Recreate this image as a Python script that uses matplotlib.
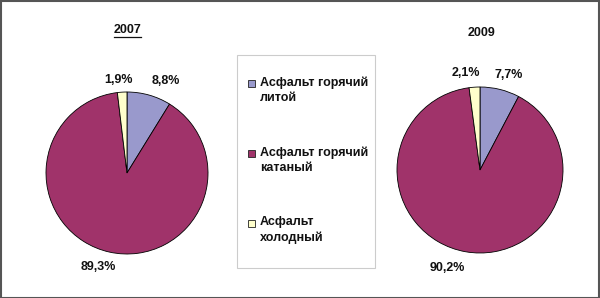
import matplotlib
matplotlib.use("Agg")
import matplotlib.pyplot as plt
from matplotlib.patches import Rectangle
from matplotlib.lines import Line2D

plt.rcParams["font.family"] = ["Liberation Sans", "DejaVu Sans"]

categories = ["Асфальт горячий\nлитой", "Асфальт горячий\nкатаный", "Асфальт\nхолодный"]
colors = ["#9999cc", "#a0336a", "#ffffcc"]
years = ["2007", "2009"]
shares_2007 = [8.8, 89.3, 1.9]
shares_2009 = [7.7, 90.2, 2.1]
labels_2007 = ["8,8%", "89,3%", "1,9%"]
labels_2009 = ["7,7%", "90,2%", "2,1%"]

W, H = 600, 298
fig = plt.figure(figsize=(W / 100, H / 100), dpi=100)
fig.patch.set_facecolor("white")


def pie_axes(cx, cy, r):
    # pixel centre / radius -> axes rect in figure fraction
    return fig.add_axes([(cx - r) / W, (H - cy - r) / H, 2 * r / W, 2 * r / H])


def draw_pie(ax, values, labels, label_pos):
    ax.pie(values, colors=colors, startangle=90, counterclock=False,
           wedgeprops=dict(edgecolor="black", linewidth=0.6))
    ax.set_xlim(-1, 1)
    ax.set_ylim(-1, 1)
    ax.set_aspect("auto")
    ax.axis("off")
    for txt, (x, y) in zip(labels, label_pos):
        ax.text(x, y, txt, ha="center", va="center", fontsize=9,
                fontweight="bold", color="#111111", clip_on=False)


ax1 = pie_axes(127, 173, 81)
draw_pie(ax1, shares_2007, labels_2007, [(0.48, 1.14), (-0.36, -1.16), (-0.10, 1.15)])

ax2 = pie_axes(480, 170, 83)
draw_pie(ax2, shares_2009, labels_2009, [(0.35, 1.14), (-0.39, -1.18), (-0.17, 1.17)])

# titles
fig.text(127 / W, 1 - 30 / H, years[0], ha="center", va="center",
         fontsize=9, fontweight="bold", color="#111111")
fig.add_artist(Line2D([114 / W, 141 / W], [1 - 37 / H, 1 - 37 / H],
                      color="#111111", linewidth=0.9))
fig.text(482 / W, 1 - 33 / H, years[1], ha="center", va="center",
         fontsize=9, fontweight="bold", color="#111111")

# legend box
fig.add_artist(Rectangle((237 / W, 1 - 268 / H), 138 / W, 213 / H,
                         transform=fig.transFigure, facecolor="white",
                         edgecolor="#cccccc", linewidth=0.8))
for i, (name, col) in enumerate(zip(categories, colors)):
    y = 83 + i * 70
    fig.add_artist(Rectangle((248 / W, 1 - (y + 4) / H), 7 / W, 7 / H,
                             transform=fig.transFigure, facecolor=col,
                             edgecolor="#222222", linewidth=0.6))
    fig.text(260 / W, 1 - (y - 7) / H, name, ha="left", va="top",
             fontsize=9, fontweight="bold", color="#111111", linespacing=1.35)

# outer frame
fig.add_artist(Rectangle((0.5 / W, 0.5 / H), (W - 1.5) / W, (H - 1.5) / H,
                         transform=fig.transFigure, facecolor="none",
                         edgecolor="#555555", linewidth=1.5))

fig.savefig("out.png", dpi=100)
